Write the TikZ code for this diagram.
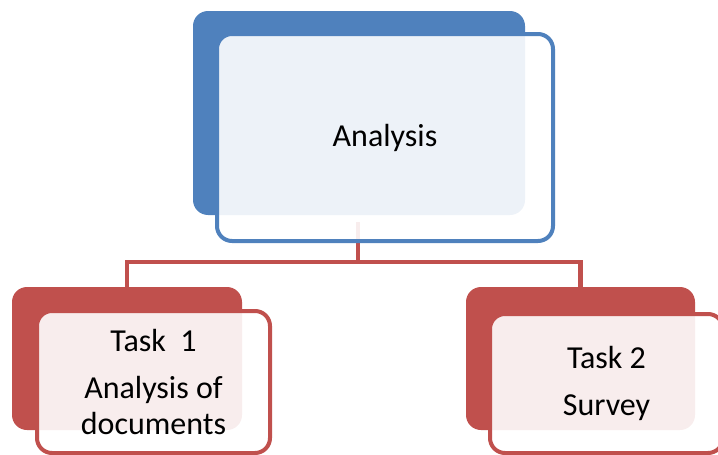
\documentclass[tikz,border=0pt]{standalone}
\usepackage{fontspec}
\setmainfont{Carlito}
\definecolor{accblue}{HTML}{4F81BD}
\definecolor{accred}{HTML}{C0504D}
\begin{document}
\begin{tikzpicture}[x=1pt,y=-1pt,
  backbox/.style={fill=#1, draw=none, rounded corners=15pt, inner sep=0pt},
  frontbox/.style={draw=#1, line width=4pt, fill=white, fill opacity=0.9, text opacity=1,
     rounded corners=15pt, inner sep=0pt, align=center, font=\fontsize{32}{36}\selectfont},
  link/.style={draw=accred, line width=4.2pt}]
\useasboundingbox (0,0) rectangle (718,455);
\clip (0,0) rectangle (718,455);
% back boxes
\node[backbox=accblue, minimum width=332pt, minimum height=204pt] (anaB) at (359,113) {};
\node[backbox=accred, minimum width=230pt, minimum height=143pt] (t1B) at (127,358.5) {};
\node[backbox=accred, minimum width=229pt, minimum height=143pt] (t2B) at (580.5,358.5) {};
% connectors
\coordinate (c0) at (358,222);
\draw[link] (c0) -- ++(0,40) -| (t1B.north);
\draw[link] (c0) -- ++(0,40) -| (t2B.north);
% front boxes
\node[frontbox=accblue, minimum width=336pt, minimum height=207pt] (ana) at (385,137.5) {Analysis};
\node[frontbox=accred, minimum width=233pt, minimum height=142pt] (t1) at (153.5,382) {Task\ \ 1\\[11pt]Analysis of\\documents};
\node[frontbox=accred, minimum width=233pt, minimum height=139pt] (t2) at (606.5,383.5) {Task 2\\[11pt]Survey};
\end{tikzpicture}
\end{document}
